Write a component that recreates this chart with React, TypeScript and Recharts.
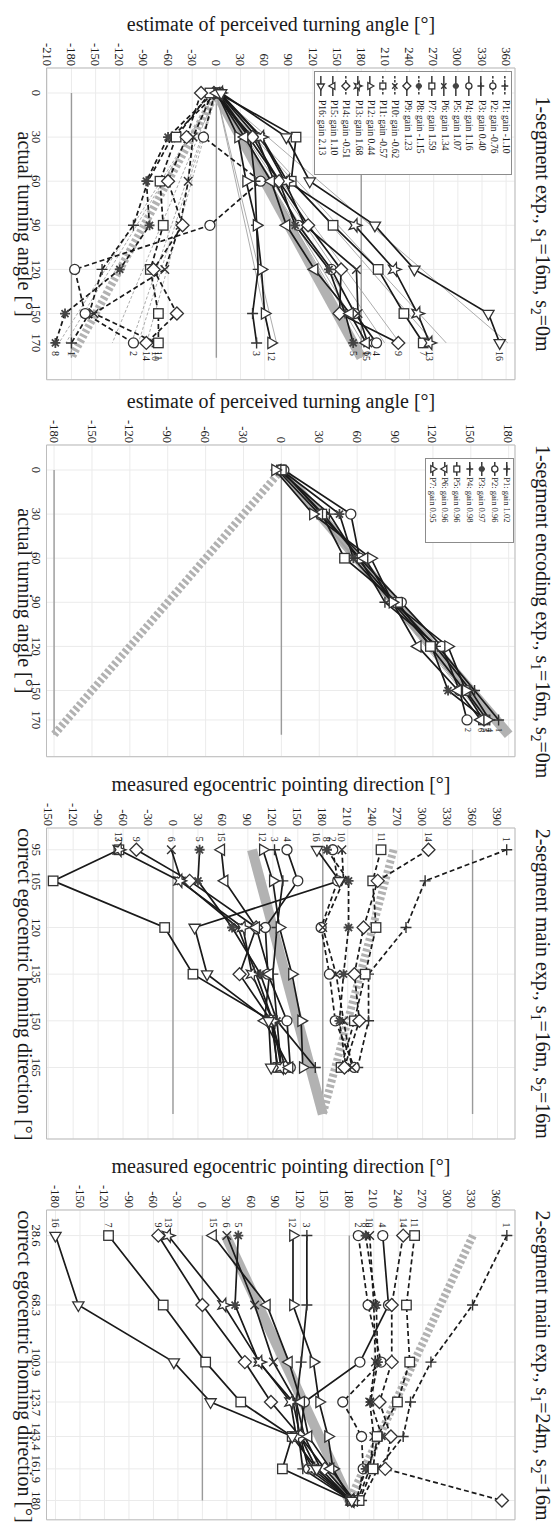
import { LineChart, Line, XAxis, YAxis, CartesianGrid, ReferenceLine, ReferenceArea, Legend } from "recharts"
import type { ReactNode } from "react"

const SERIF = '"Liberation Serif", "Times New Roman", serif'
const INK = "#1a1a1a"
const EDGE = "#333"
const GRID = "#ebebeb"
const AXIS_REF = "#9a9a9a"
const BAND = "#b2b2b2"

// participants P1..P16 (experiments 1, 3 and 4)
const participants = [1, 2, 3, 4, 5, 6, 7, 8, 9, 10, 11, 12, 13, 14, 15, 16]
const participantMarkers = ["+", "o", "+", "o", "*", "x", "s", "*", "d", "x", "s", "^", "p", "d", "v", ">"]
// participants who turned the wrong way in the 1-segment experiment (dashed)
const mirroredParticipants = [1, 2, 8, 10, 11, 14]

// ---- 1-segment exp., s1=16m, s2=0m
const exp1Angles = [0, 30, 60, 90, 120, 150, 170]
const exp1Ticks = [-210, -180, -150, -120, -90, -60, -30, 0, 30, 60, 90, 120, 150, 180, 210, 240, 270, 300, 330, 360]
const exp1Gains = [-1.1, -0.76, 0.4, 1.16, 1.07, 1.34, 1.59, -1.15, 1.23, -0.62, -0.57, 0.44, 1.68, -0.51, 1.1, 2.13]
const exp1Estimates = [
  [0, -55, -85, -103, -142, -158, -180],
  [-2, -16, 55, -8, -176, -163, -103],
  [2, 42, 48, 50, 52, 45, 50],
  [3, 50, 72, 102, 143, 172, 199],
  [0, 40, 78, 98, 140, 160, 170],
  [4, 55, 85, 110, 174, 176, 188],
  [2, 99, 93, 145, 201, 233, 257],
  [-4, -60, -87, -83, -120, -188, -200],
  [-3, 45, 78, 114, 155, 153, 226],
  [-5, -29, -35, -45, -64, -152, -75],
  [-8, -50, -70, -66, -82, -72, -72],
  [1, 27, 37, 50, 56, 60, 68],
  [5, 56, 88, 172, 221, 250, 265],
  [-19, -37, -60, -42, -78, -49, -87],
  [0, 35, 68, 87, 122, 166, 186],
  [6, 87, 116, 197, 246, 338, 352],
]

// ---- 1-segment encoding exp., s1=16m, s2=0m
const exp2Participants = [1, 2, 3, 4, 5, 6, 7]
const exp2Markers = ["+", "o", "*", "+", "s", "v", "^"]
const exp2Angles = [0, 30, 60, 90, 120, 150, 170]
const exp2Ticks = [-180, -150, -120, -90, -60, -30, 0, 30, 60, 90, 120, 150, 180]
const exp2Gains = [1.02, 0.96, 0.97, 0.98, 0.96, 0.96, 0.95]
const exp2Estimates = [
  [0, 33, 62, 82, 124, 153, 172],
  [2, 55, 62, 95, 127, 141, 147],
  [0, 46, 57, 88, 119, 132, 162],
  [-2, 38, 60, 90, 122, 150, 165],
  [0, 32, 50, 92, 118, 145, 160],
  [-3, 30, 66, 88, 108, 140, 158],
  [-5, 25, 71, 88, 132, 146, 163],
]

// ---- 2-segment main exp., s1=16m, s2=16m
const exp3Angles = [95, 105, 120, 135, 150, 165]
const exp3Ticks = [-150, -120, -90, -60, -30, 0, 30, 60, 90, 120, 150, 180, 210, 240, 270, 300, 330, 360, 390]
const exp3Pointing = [
  [401, 303, 280, 235, 235, 222],
  [192, 198, 178, 188, 195, 218],
  [122, 132, 125, 120, 125, 171],
  [137, 150, 111, 114, 137, 141],
  [32, 30, 71, 105, 125, 130],
  [-2, 10, 78, 100, 120, 125],
  [-65, -144, -10, 24, 118, 126],
  [185, 211, 211, 205, 200, 208],
  [-44, 20, 100, 80, 118, 135],
  [203, 205, 180, 196, 205, 215],
  [250, 240, 244, 231, 218, 202],
  [108, 120, 128, 143, 154, 156],
  [-65, 8, 84, 95, 120, 130],
  [307, 246, 229, 218, 224, 206],
  [58, 62, 100, 116, 110, 140],
  [173, 200, 26, 41, 115, 118],
]

// ---- 2-segment main exp., s1=24m, s2=16m
const exp4Angles = [28.6, 68.3, 100.9, 123.7, 143.4, 161.9, 180]
const exp4Ticks = [-180, -150, -120, -90, -60, -30, 0, 30, 60, 90, 120, 150, 180, 210, 240, 270, 300, 330, 360]
const exp4Pointing = [
  [373, 331, 280, 255, 246, 215, 195],
  [191, 203, 219, 172, 195, 197, 190],
  [128, 128, 121, 115, 118, 123, 182],
  [221, 228, 193, 125, 120, 130, 182],
  [44, 40, 69, 111, 120, 140, 182],
  [30, 64, 87, 115, 125, 145, 182],
  [-115, -48, 4, 47, 110, 98, 182],
  [200, 213, 215, 206, 220, 200, 188],
  [-54, 0, 52, 84, 120, 150, 185],
  [205, 210, 212, 205, 210, 205, 190],
  [260, 250, 254, 239, 214, 209, 192],
  [111, 111, 136, 143, 154, 160, 182],
  [-42, 26, 70, 108, 115, 135, 183],
  [246, 232, 232, 217, 231, 224, 367],
  [13, 79, 106, 121, 130, 157, 186],
  [-180, -152, -35, 10, 110, 140, 183],
]

// the figure is laid out as one wide strip and turned a quarter clockwise
const CANVAS_W = 1531
const CANVAS_H = 556
const PLOT_TOP = 41
const PLOT_BOTTOM = 509.5
const AXIS_W = 60
const PAD_L = 8
const PAD_R = 4
const AXIS_H = 30

function trianglePoints(cx: number, cy: number, k: number, heading: number) {
  return [0, 120, 240]
    .map((a) => {
      const t = ((heading + a) * Math.PI) / 180
      return `${cx + k * Math.sin(t)},${cy - k * Math.cos(t)}`
    })
    .join(" ")
}

function starPoints(cx: number, cy: number, k: number) {
  const pts: string[] = []
  for (let n = 0; n < 10; n++) {
    const rr = n % 2 === 0 ? k : k * 0.42
    const t = (n * 36 * Math.PI) / 180
    pts.push(`${cx + rr * Math.sin(t)},${cy - rr * Math.cos(t)}`)
  }
  return pts.join(" ")
}

function Marker({ cx, cy, shape, r = 5 }: { cx?: number; cy?: number; shape: string; r?: number }) {
  if (cx == null || cy == null) return null
  const outline = { stroke: EDGE, strokeWidth: 1.3, fill: "#fff" }
  switch (shape) {
    case "o":
      return <circle cx={cx} cy={cy} r={r} {...outline} />
    case "s":
      return <rect x={cx - r * 0.95} y={cy - r * 0.95} width={r * 1.9} height={r * 1.9} {...outline} />
    case "d": {
      const k = r * 1.3
      return <polygon points={`${cx},${cy - k} ${cx + k},${cy} ${cx},${cy + k} ${cx - k},${cy}`} {...outline} />
    }
    case "^":
      return <polygon points={trianglePoints(cx, cy, r * 1.3, 0)} {...outline} />
    case ">":
      return <polygon points={trianglePoints(cx, cy, r * 1.3, 90)} {...outline} />
    case "v":
      return <polygon points={trianglePoints(cx, cy, r * 1.3, 180)} {...outline} />
    case "<":
      return <polygon points={trianglePoints(cx, cy, r * 1.3, 270)} {...outline} />
    case "p":
      return <polygon points={starPoints(cx, cy, r * 1.4)} {...outline} />
    case "+": {
      const k = r * 1.1
      return <path d={`M${cx - k},${cy}H${cx + k}M${cx},${cy - k}V${cy + k}`} stroke={EDGE} strokeWidth={1.4} fill="none" />
    }
    case "x": {
      const k = r * 0.85
      return (
        <path
          d={`M${cx - k},${cy - k}L${cx + k},${cy + k}M${cx - k},${cy + k}L${cx + k},${cy - k}`}
          stroke={EDGE}
          strokeWidth={1.4}
          fill="none"
        />
      )
    }
    default: {
      // filled asterisk
      const k = r
      const d = k * 0.7
      return (
        <g>
          <path
            d={`M${cx - k},${cy}H${cx + k}M${cx},${cy - k}V${cy + k}M${cx - d},${cy - d}L${cx + d},${cy + d}M${cx - d},${cy + d}L${cx + d},${cy - d}`}
            stroke="#444"
            strokeWidth={1.8}
          />
          <circle cx={cx} cy={cy} r={r * 0.45} fill="#444" />
        </g>
      )
    }
  }
}

type LegendSpec = {
  left: number
  top: number
  width: number
  rowH: number
  sample: number
  lineFrom: number
  lineTo: number
  mark: number
  font: number
}

type PanelSpec = {
  plotLeft: number
  plotRight: number
  cDomain: [number, number]
  vDomain: [number, number]
  angles: number[]
  valueTicks: number[]
  values: number[][]
  ids: number[]
  markers: string[]
  dashed: boolean[]
  numberAt: "first" | "last"
  numberFont: number
  bandStart: number
  mirror: number
  refValues: number[]
  gains?: number[]
  legend?: LegendSpec
  title: ReactNode
  xLabel: string
  yLabel: string
}

function LegendBox({ ids, gains, markers, dashed, spec }: { ids: number[]; gains: number[]; markers: string[]; dashed: boolean[]; spec: LegendSpec }) {
  return (
    <div
      style={{
        width: spec.width,
        boxSizing: "border-box",
        border: "1px solid #8c8c8c",
        background: "#fff",
        fontFamily: SERIF,
        color: INK,
      }}
    >
      {ids.map((id, i) => (
        <div key={id} style={{ display: "flex", alignItems: "center", height: spec.rowH }}>
          <svg width={spec.sample} height={spec.rowH} style={{ flex: "none", display: "block" }}>
            <line
              x1={spec.lineFrom}
              x2={spec.lineTo}
              y1={spec.rowH / 2}
              y2={spec.rowH / 2}
              stroke={INK}
              strokeWidth={1.3}
              strokeDasharray={dashed[i] ? "2.5 1.5" : undefined}
            />
            <Marker cx={spec.mark} cy={spec.rowH / 2} shape={markers[i]} r={3.1} />
          </svg>
          <span style={{ fontSize: spec.font, lineHeight: 1, whiteSpace: "nowrap" }}>{`P${id}: gain ${gains[i].toFixed(2)}`}</span>
        </div>
      ))}
    </div>
  )
}

function segTitle(name: string, s1: string, s2: string) {
  const sub = { fontSize: "0.68em", position: "relative" as const, top: "0.35em" }
  return (
    <>
      {name}, s<span style={sub}>1</span>={s1}, s<span style={sub}>2</span>={s2}
    </>
  )
}

function Panel(p: PanelSpec) {
  const plotW = p.plotRight - p.plotLeft
  const chartLeft = p.plotLeft - AXIS_W - PAD_L
  const chartW = plotW + AXIS_W + PAD_L + PAD_R
  const inner = AXIS_W + PAD_L
  const numberIdx = p.numberAt === "last" ? p.angles.length - 1 : 0

  const rows = p.angles.map((c, j) => {
    const row: Record<string, number> = { c }
    p.values.forEach((s, i) => {
      row[`p${i}`] = s[j]
    })
    return row
  })

  const tickStyle = { fontSize: 12.5, fill: INK, fontFamily: SERIF }
  const lastAngle = p.angles[p.angles.length - 1]

  return (
    <div style={{ position: "absolute", left: chartLeft, top: 0, width: chartW, height: CANVAS_H }}>
      <LineChart
        width={chartW}
        height={CANVAS_H}
        data={rows}
        margin={{ top: PLOT_TOP, right: PAD_R, bottom: CANVAS_H - PLOT_BOTTOM - AXIS_H, left: PAD_L }}
      >
        <CartesianGrid stroke={GRID} />
        <XAxis
          type="number"
          dataKey="c"
          domain={p.cDomain}
          ticks={p.angles}
          interval={0}
          allowDataOverflow
          height={AXIS_H}
          axisLine={false}
          tickLine={false}
          tickSize={0}
          tickMargin={6}
          tick={tickStyle}
        />
        <YAxis
          type="number"
          domain={p.vDomain}
          ticks={p.valueTicks}
          interval={0}
          allowDataOverflow
          width={AXIS_W}
          axisLine={false}
          tickLine={false}
          tickSize={0}
          tickMargin={2}
          tick={tickStyle}
        />
        <ReferenceArea
          x1={p.cDomain[0]}
          x2={p.cDomain[1]}
          y1={p.vDomain[0]}
          y2={p.vDomain[1]}
          fill="none"
          fillOpacity={0}
          stroke="#bdbdbd"
          strokeWidth={1}
          ifOverflow="visible"
        />
        {p.refValues.map((v) => (
          <ReferenceLine
            key={`ref${v}`}
            segment={[
              { x: p.bandStart, y: v },
              { x: 180, y: v },
            ]}
            stroke={AXIS_REF}
            strokeWidth={1.4}
          />
        ))}
        <ReferenceLine
          segment={[
            { x: p.bandStart, y: p.bandStart },
            { x: 180, y: 180 },
          ]}
          stroke={BAND}
          strokeWidth={10}
        />
        <ReferenceLine
          segment={[
            { x: p.bandStart, y: p.mirror - p.bandStart },
            { x: 180, y: p.mirror - 180 },
          ]}
          stroke={BAND}
          strokeWidth={8}
          strokeDasharray="3 2.4"
        />
        {p.gains?.map((g, i) => (
          <ReferenceLine
            key={`gain${i}`}
            segment={[
              { x: 0, y: 0 },
              { x: lastAngle, y: g * lastAngle },
            ]}
            stroke="#a3a3a3"
            strokeWidth={0.9}
            strokeDasharray={g < 0 ? "3 2" : undefined}
          />
        ))}
        {p.values.map((_, i) => (
          <Line
            key={`p${i}`}
            type="linear"
            dataKey={`p${i}`}
            stroke={INK}
            strokeWidth={1.7}
            strokeDasharray={p.dashed[i] ? "5 3" : undefined}
            isAnimationActive={false}
            activeDot={false}
            dot={(d: any) => (
              <g key={`m${i}-${d.index}`}>
                <Marker cx={d.cx} cy={d.cy} shape={p.markers[i]} />
                {d.index === numberIdx && d.cx != null && (
                  <text
                    x={p.numberAt === "last" ? d.cx + 8 : d.cx - 8}
                    y={d.cy}
                    textAnchor={p.numberAt === "last" ? "start" : "end"}
                    dominantBaseline="central"
                    fontSize={p.numberFont}
                    fontFamily={SERIF}
                    fill={INK}
                  >
                    {p.ids[i]}
                  </text>
                )}
              </g>
            )}
          />
        ))}
        {p.legend && p.gains && (
          <Legend
            layout="vertical"
            align="center"
            verticalAlign="middle"
            wrapperStyle={{ left: p.legend.left - chartLeft, top: p.legend.top, width: p.legend.width }}
            content={() => <LegendBox ids={p.ids} gains={p.gains!} markers={p.markers} dashed={p.dashed} spec={p.legend!} />}
          />
        )}
      </LineChart>

      <div
        style={{
          position: "absolute",
          left: inner,
          width: plotW,
          top: 3,
          textAlign: "center",
          fontSize: 20,
          lineHeight: "20px",
          whiteSpace: "nowrap",
        }}
      >
        {p.title}
      </div>
      <div
        style={{
          position: "absolute",
          left: inner,
          width: plotW,
          top: 521,
          textAlign: "center",
          fontSize: 20,
          lineHeight: "20px",
          whiteSpace: "nowrap",
        }}
      >
        {p.xLabel}
      </div>
      <div
        style={{
          position: "absolute",
          left: inner - 44 - 235,
          width: 470,
          top: (PLOT_TOP + PLOT_BOTTOM) / 2 - 12,
          height: 24,
          lineHeight: "24px",
          textAlign: "center",
          fontSize: 20,
          whiteSpace: "nowrap",
          transform: "rotate(-90deg)",
        }}
      >
        {p.yLabel}
      </div>
    </div>
  )
}

const mirroredFlags = participants.map((id) => mirroredParticipants.includes(id))

export default function App() {
  return (
    <div style={{ position: "absolute", left: 0, top: 0, width: CANVAS_H, height: CANVAS_W, overflow: "hidden", background: "#fff" }}>
      <div
        style={{
          position: "absolute",
          left: 0,
          top: 0,
          width: CANVAS_W,
          height: CANVAS_H,
          transformOrigin: "0 0",
          transform: `translate(${CANVAS_H}px, 0) rotate(90deg)`,
          fontFamily: SERIF,
          color: INK,
        }}
      >
        <Panel
          plotLeft={68.3}
          plotRight={380}
          cDomain={[-17, 195]}
          vDomain={[-211, 371]}
          angles={exp1Angles}
          valueTicks={exp1Ticks}
          values={exp1Estimates}
          ids={participants}
          markers={participantMarkers}
          dashed={mirroredFlags}
          numberAt="last"
          numberFont={10}
          bandStart={0}
          mirror={0}
          refValues={[-180, 0, 180]}
          gains={exp1Gains}
          legend={{ left: 71, top: 43.5, width: 104, rowH: 12.3, sample: 28, lineFrom: 4, lineTo: 24, mark: 14, font: 9.5 }}
          title={segTitle("1-segment exp.", "16m", "0m")}
          xLabel="actual turning angle [°]"
          yLabel="estimate of perceived turning angle [°]"
        />
        <Panel
          plotLeft={445}
          plotRight={756.7}
          cDomain={[-17, 195]}
          vDomain={[-186, 185]}
          angles={exp2Angles}
          valueTicks={exp2Ticks}
          values={exp2Estimates}
          ids={exp2Participants}
          markers={exp2Markers}
          dashed={exp2Participants.map(() => false)}
          numberAt="last"
          numberFont={8}
          bandStart={0}
          mirror={0}
          refValues={[-180, 0]}
          gains={exp2Gains}
          legend={{ left: 458.3, top: 42, width: 85, rowH: 12.4, sample: 18, lineFrom: 3, lineTo: 17, mark: 10, font: 8.5 }}
          title={segTitle("1-segment encoding exp.", "16m", "0m")}
          xLabel="actual turning angle [°]"
          yLabel="estimate of perceived turning angle [°]"
        />
        <Panel
          plotLeft={828.2}
          plotRight={1139.2}
          cDomain={[88, 188]}
          vDomain={[-152, 411]}
          angles={exp3Angles}
          valueTicks={exp3Ticks}
          values={exp3Pointing}
          ids={participants}
          markers={participantMarkers}
          dashed={mirroredFlags}
          numberAt="first"
          numberFont={10}
          bandStart={95}
          mirror={360}
          refValues={[0, 180, 360]}
          title={segTitle("2-segment main exp.", "16m", "16m")}
          xLabel="correct egocentric homing direction [°]"
          yLabel="measured egocentric pointing direction [°]"
        />
        <Panel
          plotLeft={1210.4}
          plotRight={1520.2}
          cDomain={[14, 191]}
          vDomain={[-191, 383]}
          angles={exp4Angles}
          valueTicks={exp4Ticks}
          values={exp4Pointing}
          ids={participants}
          markers={participantMarkers}
          dashed={mirroredFlags}
          numberAt="first"
          numberFont={10}
          bandStart={28.6}
          mirror={360}
          refValues={[0, 180]}
          title={segTitle("2-segment main exp.", "24m", "16m")}
          xLabel="correct egocentric homing direction [°]"
          yLabel="measured egocentric pointing direction [°]"
        />
      </div>
    </div>
  )
}
